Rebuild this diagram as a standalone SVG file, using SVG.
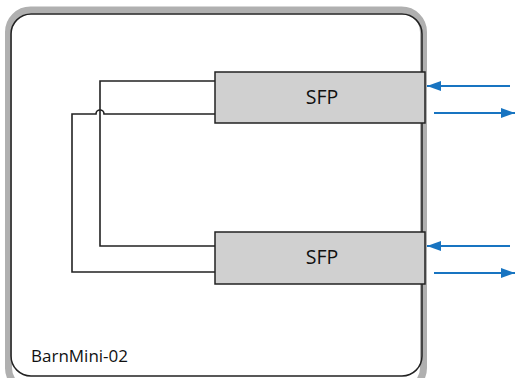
<svg xmlns="http://www.w3.org/2000/svg" width="515" height="378" viewBox="0 0 515 378">
<defs>
<marker id="ah" viewBox="0 0 14 10" refX="14" refY="5" markerWidth="14" markerHeight="10" markerUnits="userSpaceOnUse" orient="auto">
<path d="M0,0 L14,5 L0,10 z" fill="#1874c1"/>
</marker>
</defs>
<style>
.sfp{fill:#d0d0d0;stroke:#222;stroke-width:1.5}
.lbl{font-family:"Open Sans","Noto Sans",sans-serif;fill:#111}
.wire{fill:none;stroke:#222;stroke-width:1.6}
.arr{stroke:#1874c1;stroke-width:2;marker-end:url(#ah)}
</style>
<rect x="0" y="0" width="515" height="378" fill="#fff"/>
<g id="device">
<rect x="8.5" y="10" width="415" height="380" rx="22" fill="#fff" stroke="#b0b0b0" stroke-width="7"/>
<rect x="11" y="14" width="411" height="362" rx="20" fill="none" stroke="#222" stroke-width="1.5"/>
<text class="lbl" x="31" y="362" font-size="17">BarnMini-02</text>
</g>
<g id="connectors">
<path class="wire" d="M215,81 H100 V246 H215"/>
<path class="wire" d="M215,114 H104 A4,4 0 0 0 96,114 H72 V272 H215"/>
<line class="arr" x1="510" y1="86" x2="427" y2="86"/>
<line class="arr" x1="434" y1="113" x2="515" y2="113"/>
<line class="arr" x1="510" y1="246" x2="427" y2="246"/>
<line class="arr" x1="434" y1="273" x2="515" y2="273"/>
</g>
<g id="sfp1">
<rect class="sfp" x="215" y="72" width="210" height="51"/>
<text class="lbl" x="322" y="104" font-size="19.5" text-anchor="middle">SFP</text>
</g>
<g id="sfp2">
<rect class="sfp" x="215" y="232" width="210" height="52"/>
<text class="lbl" x="322" y="264" font-size="19.5" text-anchor="middle">SFP</text>
</g>
</svg>
